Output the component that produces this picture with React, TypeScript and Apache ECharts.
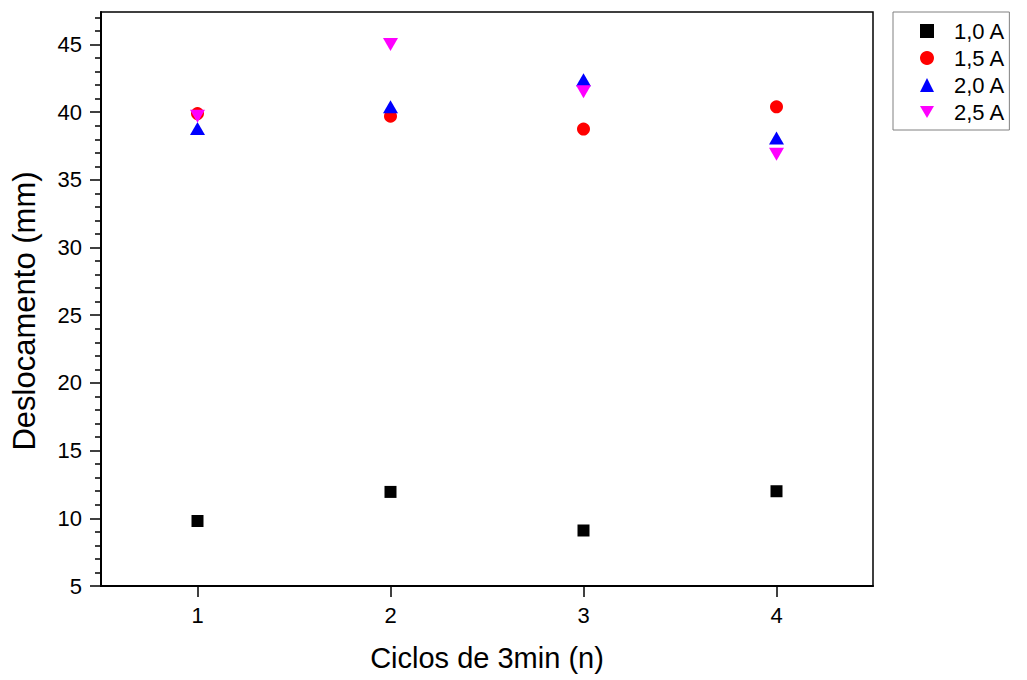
import React, { useEffect, useRef } from "react";
import * as echarts from "echarts";

// Cycle index (3-minute cycles)
const cycles = [1, 2, 3, 4];
const xTicks = [1, 2, 3, 4];
const yTicks = [5, 10, 15, 20, 25, 30, 35, 40, 45];

// Displacement (mm) per current level
const seriesNames = ["1,0 A", "1,5 A", "2,0 A", "2,5 A"];
const disp10 = [9.8, 11.95, 9.1, 12.0];
const disp15 = [39.9, 39.7, 38.75, 40.4];
const disp20 = [38.8, 40.4, 42.4, 38.1];
const disp25 = [39.7, 45.0, 41.5, 36.9];

const FONT = "'Liberation Sans', Arial, sans-serif";

const pairs = (ys: number[]) => cycles.map((x, i) => [x, ys[i]]);

export default function App() {
  const ref = useRef<HTMLDivElement>(null);

  useEffect(() => {
    if (!ref.current) return;
    const chart = echarts.init(ref.current, undefined, { renderer: "svg" });

    const markers = [
      { data: disp10, symbol: "rect", size: [12, 12], color: "#000000" },
      { data: disp15, symbol: "circle", size: 13, color: "#ff0000" },
      { data: disp20, symbol: "triangle", size: [15, 13], color: "#0000ff" },
      { data: disp25, symbol: "path://M0,0L10,0L5,8.66Z", size: [15, 13], color: "#ff00ff" },
    ];

    chart.setOption({
      animation: false,
      backgroundColor: "#ffffff",
      textStyle: { fontFamily: FONT },
      grid: {
        left: 101,
        top: 12,
        right: 154,
        bottom: 94,
        show: true,
        borderColor: "#000000",
        borderWidth: 1.5,
        backgroundColor: "transparent",
      },
      legend: {
        orient: "vertical",
        left: 893,
        top: 12,
        padding: [8, 4, 7, 27],
        itemGap: 5,
        itemWidth: 14,
        itemHeight: 14,
        borderColor: "#808080",
        borderWidth: 1,
        data: seriesNames,
        formatter: (name: string) => `{t|${name}}`,
        textStyle: {
          fontFamily: FONT,
          fontSize: 22,
          color: "#000000",
          rich: { t: { fontSize: 22, fontFamily: FONT, color: "#000000", padding: [0, 0, 0, 15] } },
        },
      },
      xAxis: {
        type: "value",
        min: 0.5,
        max: 4.5,
        name: "Ciclos de 3min (n)",
        nameLocation: "middle",
        nameGap: 57,
        nameTextStyle: { fontSize: 29, fontFamily: FONT, color: "#000000" },
        axisLine: { show: true, lineStyle: { color: "#000000", width: 2 } },
        axisTick: { show: true, length: 11, customValues: xTicks, lineStyle: { color: "#000000", width: 1.5 } },
        axisLabel: { customValues: xTicks, fontSize: 22, margin: 18, color: "#000000", fontFamily: FONT },
        splitLine: { show: false },
      },
      yAxis: {
        type: "value",
        min: 5,
        max: 47.4,
        interval: 5,
        name: "Deslocamento (mm)",
        nameLocation: "middle",
        nameGap: 61,
        nameTextStyle: {
          fontSize: 31,
          fontFamily: FONT,
          color: "#000000",
          padding: [0, 24, 0, 0],
        },
        axisLine: { show: true, lineStyle: { color: "#000000", width: 2 } },
        axisTick: { show: true, length: 11, customValues: yTicks, lineStyle: { color: "#000000", width: 1.5 } },
        minorTick: { show: true, splitNumber: 5, length: 6, lineStyle: { color: "#000000", width: 1.5 } },
        axisLabel: { customValues: yTicks, fontSize: 22, margin: 19, color: "#000000", fontFamily: FONT },
        splitLine: { show: false },
      },
      series: markers.map((m, i) => ({
        name: seriesNames[i],
        type: "scatter",
        data: pairs(m.data),
        symbol: m.symbol,
        symbolSize: m.size,
        itemStyle: { color: m.color, opacity: 1 },
        z: 2 + i,
      })),
    });

    return () => chart.dispose();
  }, []);

  return (
    <div
      ref={ref}
      style={{ position: "absolute", left: 0, top: 0, width: 1027, height: 680 }}
    />
  );
}
